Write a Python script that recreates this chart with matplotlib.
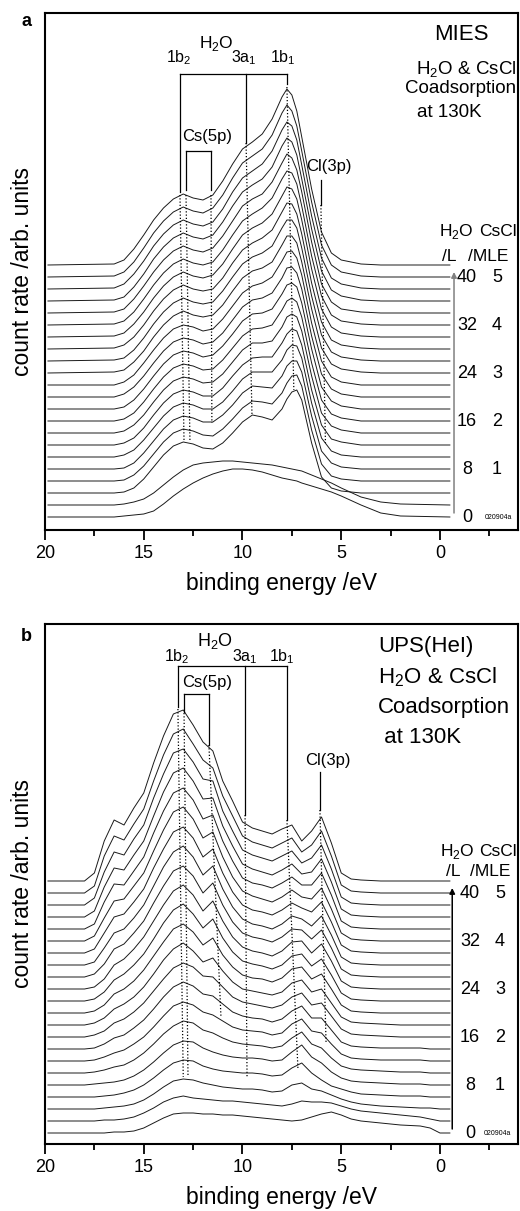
import matplotlib

matplotlib.use("Agg")
import matplotlib.pyplot as plt
import numpy as np

plt.rcParams["font.family"] = ["Liberation Sans", "DejaVu Sans"]
plt.rcParams["mathtext.fontset"] = "custom"
plt.rcParams["mathtext.rm"] = "Liberation Sans"

W, H = 520, 1211
STEP = 12  # vertical offset between successive spectra (one per 2 L water)

# ---- panel a: MIES, heights above each spectrum's own baseline ----
ENERGY_MIES = [19.85, 16.5, 16, 15.5, 15, 14.5, 14, 13.5, 13, 12.5, 12, 11.5, 11, 10.5,
               10, 9.5, 9, 8.5, 8, 7.75, 7.5, 7.25, 7, 6.5, 6, 5.5, 5, 4, 3, 2, -0.5]
MIES = [
    [0, 0, 1, 2, 3, 6, 13, 21, 28, 34, 39, 43, 46, 48, 48, 47, 45, 42, 39, 38, 37, 36, 34, 31, 28, 25, 21, 12, 4, 1, 0],
    [0, 0, 1, 3, 6, 12, 20, 28, 35, 40, 42, 43, 44, 44, 43, 42, 41, 40, 38, 37, 36, 35, 34, 30, 26, 22, 17, 8, 3, 1, 0],
    [0, 0, 1, 5, 14, 26, 38, 47, 51, 49, 45, 44, 50, 60, 71, 78, 76, 73, 84, 94, 101, 103, 93, 50, 16, 5, 2, 0, 0, 0, 0],
    [0, 0, 1, 6, 15, 27, 39, 48, 52, 50, 46, 45, 52, 62, 73, 80, 79, 77, 88, 98, 105, 106, 95, 51, 17, 5, 2, 0, 0, 0, 0],
    [0, 0, 1, 6, 16, 28, 40, 49, 53, 51, 47, 47, 54, 64, 76, 83, 82, 81, 93, 103, 108, 108, 97, 53, 18, 6, 2, 0, 0, 0, 0],
    [0, 0, 2, 7, 17, 29, 41, 50, 54, 52, 48, 48, 55, 66, 78, 85, 85, 85, 97, 107, 112, 111, 99, 54, 19, 6, 2, 0, 0, 0, 0],
    [0, 0, 2, 7, 17, 30, 42, 51, 55, 53, 49, 49, 57, 69, 80, 87, 88, 88, 102, 111, 116, 114, 100, 55, 20, 6, 3, 0, 0, 0, 0],
    [0, 0, 2, 8, 18, 31, 43, 52, 56, 54, 50, 51, 59, 71, 83, 90, 90, 92, 106, 116, 119, 116, 102, 57, 20, 7, 3, 0, 0, 0, 0],
    [0, 0, 2, 8, 19, 32, 44, 53, 57, 55, 51, 52, 61, 73, 85, 92, 93, 96, 111, 120, 123, 119, 104, 58, 21, 7, 3, 0, 0, 0, 0],
    [0, 0, 2, 9, 20, 33, 45, 54, 58, 56, 52, 54, 63, 75, 88, 95, 96, 100, 115, 124, 126, 122, 106, 60, 22, 8, 3, 0, 0, 0, 0],
    [0, 0, 3, 10, 21, 34, 46, 55, 59, 57, 53, 55, 64, 77, 90, 97, 99, 104, 119, 129, 130, 124, 108, 61, 23, 8, 3, 0, 0, 0, 0],
    [0, 0, 3, 10, 22, 35, 47, 56, 60, 58, 54, 56, 66, 79, 92, 99, 102, 108, 124, 133, 134, 127, 110, 62, 24, 8, 3, 0, 0, 0, 0],
    [0, 1, 3, 11, 22, 36, 48, 57, 62, 58, 56, 58, 68, 82, 95, 102, 105, 111, 128, 137, 137, 130, 111, 64, 25, 9, 4, 1, 0, 0, 0],
    [0, 1, 3, 11, 23, 37, 49, 58, 63, 59, 57, 59, 70, 84, 97, 104, 108, 115, 133, 141, 141, 133, 113, 65, 26, 9, 4, 1, 0, 0, 0],
    [0, 1, 4, 12, 24, 38, 50, 59, 64, 60, 58, 60, 71, 86, 99, 106, 111, 119, 137, 146, 145, 135, 115, 66, 27, 9, 4, 1, 0, 0, 0],
    [0, 1, 4, 13, 25, 39, 51, 60, 65, 61, 59, 62, 73, 88, 102, 109, 114, 123, 141, 150, 148, 138, 117, 68, 28, 10, 4, 1, 0, 0, 0],
    [0, 1, 4, 13, 26, 40, 52, 61, 66, 62, 60, 63, 75, 90, 104, 111, 117, 127, 146, 154, 152, 141, 119, 69, 29, 10, 4, 1, 0, 0, 0],
    [0, 1, 4, 14, 27, 41, 53, 62, 67, 63, 61, 65, 77, 92, 107, 114, 119, 131, 150, 159, 155, 143, 121, 71, 29, 11, 4, 1, 0, 0, 0],
    [0, 1, 4, 14, 27, 42, 54, 63, 68, 64, 62, 66, 79, 95, 109, 116, 122, 134, 155, 163, 159, 146, 122, 72, 30, 11, 5, 1, 0, 0, 0],
    [0, 1, 5, 15, 28, 43, 55, 64, 69, 65, 63, 67, 80, 97, 111, 118, 125, 138, 159, 167, 163, 149, 124, 73, 31, 11, 5, 1, 0, 0, 0],
    [0, 1, 5, 15, 29, 44, 56, 65, 70, 66, 64, 69, 82, 99, 114, 121, 128, 142, 164, 172, 166, 151, 126, 75, 32, 12, 5, 1, 0, 0, 0],
    [0, 1, 5, 16, 30, 45, 57, 66, 71, 67, 65, 70, 84, 101, 116, 123, 131, 146, 168, 176, 170, 154, 128, 76, 33, 12, 5, 1, 0, 0, 0],
]

# ---- panel b: UPS(HeI) ----
ENERGY_UPS = [19.85, 18, 17.5, 17, 16.5, 16, 15.5, 15, 14.5, 14, 13.5, 13, 12.5, 12, 11.5, 11, 10.5, 10,
              9.5, 9, 8.5, 8, 7.5, 7, 6.5, 6, 5.5, 5, 4.5, 4, 3, 2, 1, 0.5, 0, -0.5]
UPS = [
    [0, 0, 0, 0, 1, 1, 2, 5, 10, 15, 19, 20, 20, 19, 19, 18, 18, 17, 16, 15, 14, 13, 12, 13, 16, 19, 21, 18, 14, 12, 10, 8, 7, 5, 0, 0],
    [0, 0, 0, 1, 1, 2, 4, 8, 13, 19, 23, 25, 23, 22, 21, 20, 20, 19, 18, 17, 16, 15, 17, 20, 19, 19, 18, 15, 12, 10, 8, 6, 4, 2, 0, 0],
    [0, 0, 0, 1, 2, 3, 5, 9, 15, 22, 28, 30, 29, 26, 24, 22, 21, 20, 20, 19, 17, 18, 24, 26, 20, 18, 14, 10, 7, 5, 3, 2, 1, 1, 0, 0],
    [0, 0, 0, 1, 2, 4, 7, 12, 19, 27, 34, 37, 36, 31, 28, 26, 25, 24, 24, 23, 21, 22, 29, 34, 24, 17, 11, 8, 5, 3, 2, 1, 1, 0, 0, 0],
    [0, 0, 1, 2, 3, 5, 9, 15, 23, 32, 40, 44, 43, 37, 33, 30, 28, 27, 27, 26, 24, 25, 33, 40, 28, 22, 13, 7, 4, 3, 2, 1, 1, 0, 0, 0],
    [0, 0, 1, 3, 6, 8, 13, 20, 29, 39, 47, 52, 50, 43, 40, 35, 31, 29, 28, 27, 25, 27, 35, 41, 29, 25, 15, 7, 4, 3, 2, 1, 1, 0, 0, 0],
    [0, 0, 1, 4, 8, 11, 17, 24, 34, 45, 55, 59, 56, 49, 46, 40, 34, 31, 30, 29, 26, 28, 37, 42, 30, 28, 17, 7, 3, 2, 1, 1, 1, 0, 0, 0],
    [0, 0, 1, 5, 11, 14, 21, 29, 40, 52, 62, 67, 63, 55, 53, 45, 37, 33, 31, 30, 27, 30, 38, 43, 31, 31, 19, 7, 3, 2, 1, 1, 1, 0, 0, 0],
    [0, 0, 2, 6, 14, 18, 25, 34, 46, 58, 69, 74, 70, 61, 60, 50, 40, 35, 33, 31, 29, 32, 40, 44, 32, 34, 21, 8, 3, 2, 1, 0, 0, 0, 0, 0],
    [0, 0, 2, 7, 16, 21, 28, 38, 51, 65, 76, 82, 74, 63, 67, 54, 43, 36, 34, 32, 30, 33, 42, 45, 33, 36, 22, 8, 3, 2, 1, 0, 0, 0, 0, 0],
    [0, 0, 2, 8, 19, 24, 32, 43, 57, 71, 84, 89, 81, 68, 75, 58, 46, 38, 35, 34, 31, 35, 44, 46, 34, 39, 24, 8, 2, 1, 0, 0, 0, 0, 0, 0],
    [0, 0, 2, 9, 21, 27, 36, 47, 62, 78, 91, 97, 87, 73, 82, 63, 49, 40, 37, 35, 32, 36, 45, 47, 35, 42, 26, 8, 2, 1, 0, 0, 0, 0, 0, 0],
    [0, 0, 2, 10, 24, 30, 40, 52, 68, 84, 98, 104, 94, 78, 88, 68, 52, 42, 38, 36, 33, 38, 47, 48, 36, 45, 28, 8, 2, 1, 0, 0, 0, 0, 0, 0],
    [0, 0, 3, 13, 28, 33, 44, 56, 74, 91, 106, 111, 101, 84, 94, 72, 55, 44, 40, 38, 35, 40, 48, 47, 38, 47, 29, 8, 2, 1, 0, 0, 0, 0, 0, 0],
    [0, 0, 3, 17, 32, 36, 47, 60, 79, 98, 113, 119, 108, 90, 99, 76, 58, 46, 41, 39, 36, 41, 49, 46, 39, 49, 30, 8, 2, 1, 0, 0, 0, 0, 0, 0],
    [0, 0, 4, 20, 36, 39, 51, 64, 85, 104, 121, 126, 115, 96, 104, 80, 61, 48, 43, 41, 38, 43, 50, 45, 41, 51, 31, 8, 2, 1, 0, 0, 0, 0, 0, 0],
    [0, 0, 5, 23, 40, 42, 55, 68, 90, 111, 129, 134, 122, 103, 109, 84, 64, 50, 45, 42, 39, 44, 51, 44, 42, 53, 32, 8, 2, 1, 0, 0, 0, 0, 0, 0],
    [0, 0, 5, 27, 45, 44, 58, 72, 96, 118, 136, 141, 129, 110, 114, 88, 68, 51, 46, 44, 41, 46, 52, 44, 44, 56, 34, 8, 2, 1, 0, 0, 0, 0, 0, 0],
    [0, 0, 6, 30, 49, 47, 62, 76, 101, 125, 144, 149, 136, 118, 119, 91, 71, 53, 48, 45, 42, 47, 53, 43, 45, 58, 35, 8, 2, 1, 0, 0, 0, 0, 0, 0],
    [0, 0, 7, 33, 53, 50, 66, 80, 107, 131, 152, 156, 143, 126, 124, 94, 74, 55, 50, 47, 44, 49, 54, 42, 47, 60, 36, 8, 2, 1, 0, 0, 0, 0, 0, 0],
    [0, 0, 7, 37, 57, 53, 69, 84, 112, 138, 159, 164, 149, 133, 125, 97, 77, 57, 51, 48, 45, 50, 55, 41, 48, 62, 37, 8, 2, 1, 0, 0, 0, 0, 0, 0],
    [0, 0, 8, 40, 61, 56, 73, 88, 118, 145, 167, 171, 156, 139, 130, 100, 80, 59, 53, 50, 47, 52, 56, 40, 50, 64, 38, 8, 2, 1, 0, 0, 0, 0, 0, 0],
]

H2O_DOSE = [0, 8, 16, 24, 32, 40]          # L, one spectrum per 2 L
CSCL_MLE = ["", "1", "2", "3", "4", "5"]

# peak markers: energies of the solid bracket legs and how far down they reach
MIES_H2O_E = [13.165, 9.82, 7.75]
MIES_H2O_Y = [443, 325, 374, 433]          # bar height, then leg ends
MIES_CS_E = [12.86, 11.595]
MIES_CS_Y = [366, 327, 327]
MIES_CL = [6.03, 337, 312]
MIES_DOTS = [
    ((13.165, 322), (12.96, 75)),
    ((12.86, 322), (12.66, 75)),
    ((11.595, 322), (11.55, 94)),
    ((9.82, 374), (9.52, 102)),
    ((7.75, 430), (7.4, 127)),
    ((6.03, 312), (5.8, 74)),
]
UPS_H2O_E = [13.27, 9.87, 7.75]
UPS_H2O_Y = [467, 426, 318, 313]
UPS_CS_E = [12.96, 11.70]
UPS_CS_Y = [439, 421, 388]
UPS_CL = [6.08, 361, 323]
UPS_DOTS = [
    ((13.27, 424), (13.0, 56)),
    ((12.96, 420), (12.76, 58)),
    ((11.70, 388), (11.09, 116)),
    ((9.87, 318), (9.77, 56)),
    ((7.75, 313), (7.19, 63)),
    ((6.08, 323), (5.77, 91)),
]


def fig_xy(x, y):
    return x / W, 1 - y / H


def label(fig, x, y, s, size, ha="center", va="baseline", **kw):
    fx, fy = fig_xy(x, y)
    fig.text(fx, fy, s, fontsize=size, ha=ha, va=va, **kw)


def draw_spectra(ax, energy, rows, ylim):
    for i, row in enumerate(rows):
        ax.plot(energy, np.asarray(row, dtype=float) + STEP * i, color="#1a1a1a", lw=0.7,
                solid_joinstyle="round")
    ax.set_xlim(20, -3.95)
    ax.set_ylim(*ylim)
    ax.set_yticks([])
    ax.set_xticks([20, 15, 10, 5, 0])
    ax.set_xticks([17.5, 12.5, 7.5, 2.5, -2.5], minor=True)
    ax.tick_params(axis="x", which="major", direction="out", length=7, width=1.3, labelsize=13, pad=4)
    ax.tick_params(axis="x", which="minor", direction="out", length=4, width=1.3)
    for spine in ax.spines.values():
        spine.set_linewidth(1.5)
    ax.set_xlabel("binding energy /eV", fontsize=16.5, labelpad=7)
    ax.set_ylabel("count rate /arb. units", fontsize=16.5, labelpad=8)


def draw_markers(ax, h2o_e, h2o_y, cs_e, cs_y, cl, dots):
    kw = dict(color="black", lw=0.9)
    ax.plot([h2o_e[0], h2o_e[-1]], [h2o_y[0], h2o_y[0]], **kw)
    for e, end in zip(h2o_e, h2o_y[1:]):
        ax.plot([e, e], [h2o_y[0], end], **kw)
    ax.plot([cs_e[0], cs_e[1]], [cs_y[0], cs_y[0]], **kw)
    for e, end in zip(cs_e, cs_y[1:]):
        ax.plot([e, e], [cs_y[0], end], **kw)
    ax.plot([cl[0], cl[0]], [cl[1], cl[2]], **kw)
    for (e0, y0), (e1, y1) in dots:
        ax.plot([e0, e1], [y0, y1], color="black", lw=0.9, ls=(0, (1, 1.6)))


def draw_dose_scale(ax, x_dose, x_mle, x_arrow, arrow_color):
    top = STEP * H2O_DOSE[-1] / 2
    ax.annotate("", xy=(x_arrow, top + 5), xytext=(x_arrow, 4),
                arrowprops=dict(arrowstyle="-|>", color=arrow_color, lw=1.1,
                                mutation_scale=8, shrinkA=0, shrinkB=0),
                annotation_clip=False)
    for dose, mle in zip(H2O_DOSE, CSCL_MLE):
        y = STEP * dose / 2
        ax.text(x_dose, y, str(dose), fontsize=13, ha="center", va="center")
        if mle:
            ax.text(x_mle, y, mle, fontsize=13, ha="center", va="center")


def main():
    fig = plt.figure(figsize=(W / 100, H / 100), dpi=100)
    ax_a = fig.add_axes([45 / W, 1 - 530 / H, 473 / W, 517 / H])
    ax_b = fig.add_axes([45 / W, 1 - 1144 / H, 473 / W, 520 / H])

    draw_spectra(ax_a, ENERGY_MIES, MIES, (-13, 504))
    draw_spectra(ax_b, ENERGY_UPS, UPS, (-11, 509))
    draw_markers(ax_a, MIES_H2O_E, MIES_H2O_Y, MIES_CS_E, MIES_CS_Y, MIES_CL, MIES_DOTS)
    draw_markers(ax_b, UPS_H2O_E, UPS_H2O_Y, UPS_CS_E, UPS_CS_Y, UPS_CL, UPS_DOTS)
    draw_dose_scale(ax_a, -1.37, -2.89, -0.71, "#808080")
    draw_dose_scale(ax_b, -1.52, -3.04, -0.62, "black")

    h2o = r"H$_\mathregular{2}$O"
    # panel a texts
    label(fig, 26, 26, "a", 13, fontweight="bold")
    label(fig, 461, 40, "MIES", 16)
    label(fig, 466, 75, h2o + " & CsCl", 13.5)
    label(fig, 461, 93, "Coadsorption", 13.5)
    label(fig, 449, 117, "at 130K", 13.5)
    label(fig, 216, 48, h2o, 12.5)
    label(fig, 179, 62, r"1b$_\mathregular{2}$", 11.5)
    label(fig, 244, 62, r"3a$_\mathregular{1}$", 11.5)
    label(fig, 283, 62, r"1b$_\mathregular{1}$", 11.5)
    label(fig, 207, 141, "Cs(5p)", 12)
    label(fig, 329, 171, "Cl(3p)", 12)
    label(fig, 456, 236, h2o, 12.5)
    label(fig, 498, 236, "CsCl", 12.5)
    label(fig, 449, 261, "/L", 12.5)
    label(fig, 488, 261, "/MLE", 12.5)
    label(fig, 498, 519, "020904a", 5)

    # panel b texts
    label(fig, 26, 641, "b", 13, fontweight="bold")
    label(fig, 378, 652, "UPS(HeI)", 16, ha="left")
    label(fig, 378, 683, h2o + " & CsCl", 16, ha="left")
    label(fig, 378, 713, "Coadsorption", 16, ha="left")
    label(fig, 378, 743, " at 130K", 16, ha="left")
    label(fig, 215, 646, h2o, 13)
    label(fig, 177, 661, r"1b$_\mathregular{2}$", 11.5)
    label(fig, 245, 661, r"3a$_\mathregular{1}$", 11.5)
    label(fig, 282, 661, r"1b$_\mathregular{1}$", 11.5)
    label(fig, 207, 687, "Cs(5p)", 12)
    label(fig, 328, 765, "Cl(3p)", 12)
    label(fig, 457, 856, h2o, 12.5)
    label(fig, 498, 856, "CsCl", 12.5)
    label(fig, 453, 876, "/L", 12.5)
    label(fig, 490, 876, "/MLE", 12.5)
    label(fig, 497, 1135, "020904a", 5)

    fig.savefig("out.png", dpi=100, facecolor="white")
    plt.close(fig)


if __name__ == "__main__":
    main()
